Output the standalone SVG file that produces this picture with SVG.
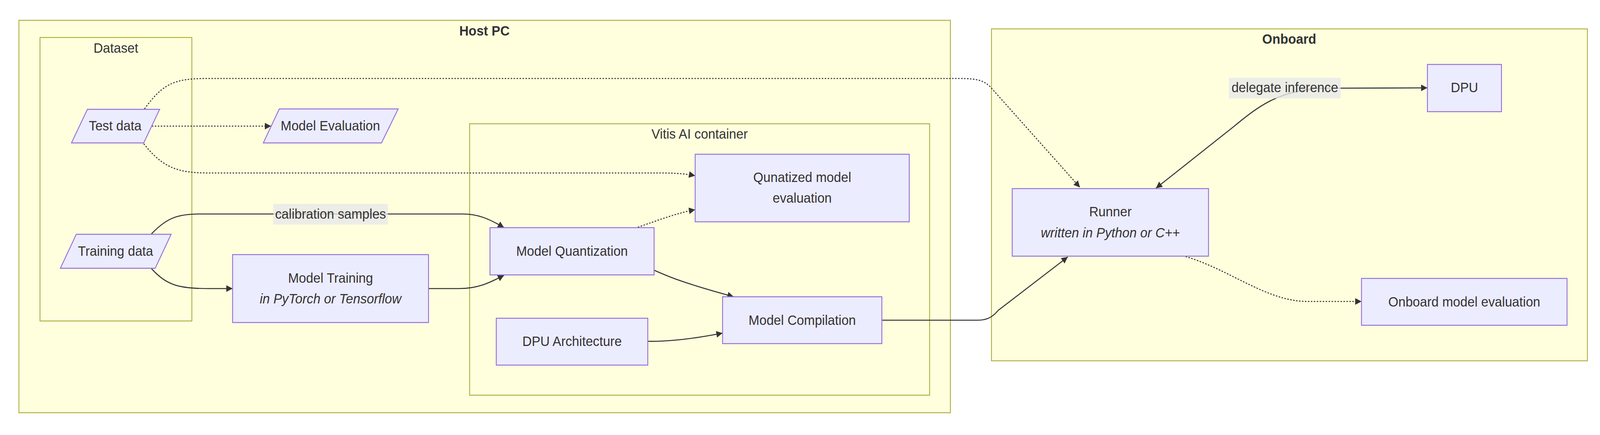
<svg xmlns="http://www.w3.org/2000/svg" width="4320" height="1114" viewBox="0 0 4320 1114">
<style>
.cluster{fill:#ffffde;stroke:#aaaa33;stroke-width:2.2}
.node{fill:#ececff;stroke:#9370db;stroke-width:2.4}
.t{font-family:"Liberation Sans",Arial,sans-serif;font-size:35px;fill:#333333;text-anchor:middle}
.b{font-weight:bold}
.i{font-style:italic}
.edge{fill:none;stroke:#333333;stroke-width:2.6}
.dot{stroke-dasharray:4 4}
.lbl{fill:rgba(232,232,232,0.8)}
</style>
<defs>
<marker id="arrow" viewBox="0 0 10 10" refX="10" refY="5" markerUnits="userSpaceOnUse" markerWidth="17" markerHeight="17" orient="auto-start-reverse"><path d="M0,0 L10,5 L0,10 z" fill="#333333"/></marker>
</defs>
<rect width="4320" height="1114" fill="#ffffff"/>
<g id="diagram" transform="matrix(0.948148 0 0 1 0 0)">
<g id="cluster-hostpc">
<rect class="cluster" x="51" y="52" width="2515" height="1005"/>
<text class="t b" x="1308" y="91">Host PC</text>
</g>
<g id="cluster-dataset">
<rect class="cluster" x="108" y="96" width="410" height="726"/>
<text class="t" x="313" y="135">Dataset</text>
</g>
<g id="cluster-vitis">
<rect class="cluster" x="1268" y="317" width="1242" height="695"/>
<text class="t" x="1889" y="355">Vitis AI container</text>
</g>
<g id="cluster-onboard">
<rect class="cluster" x="2677" y="74" width="1609" height="850"/>
<text class="t b" x="3481" y="112">Onboard</text>
</g>

<g id="connectors">
<path class="edge dot" d="M410,323 L732,323" marker-end="url(#arrow)"/>
<path class="edge dot" d="M390,279 C440,214 470,201 560,201 L2590,201 C2640,201 2660,206 2680,229 L2916,480" marker-end="url(#arrow)"/>
<path class="edge dot" d="M388,368 C440,430 480,443 564,443 L1785,443 C1830,443 1855,446 1877,450" marker-end="url(#arrow)"/>
<path class="edge" d="M409,599 C450,558 480,548 540,548 L1250,548 C1290,548 1320,560 1361,583" marker-end="url(#arrow)"/>
<path class="edge" d="M409,688 C450,730 480,739 564,739 L628,739" marker-end="url(#arrow)"/>
<path class="edge" d="M1157,739 L1240,739 C1290,739 1320,725 1361,705" marker-end="url(#arrow)"/>
<path class="edge dot" d="M1722,582 C1780,563 1830,545 1877,537" marker-end="url(#arrow)"/>
<path class="edge" d="M1766,692 C1805,708 1835,722 1981,760" marker-end="url(#arrow)"/>
<path class="edge" d="M1749,874 C1800,875 1860,870 1951,853" marker-end="url(#arrow)"/>
<path class="edge" d="M2381,820 L2640,820 C2665,820 2680,812 2695,795 L2883,658" marker-end="url(#arrow)"/>
<path class="edge" d="M3121,482 L3330,325 C3400,270 3450,235 3560,226 L3854,225" marker-start="url(#arrow)" marker-end="url(#arrow)"/>
<path class="edge dot" d="M3201,657 C3320,690 3420,772 3530,772 L3676,772" marker-end="url(#arrow)"/>
<g id="edge-label-calibration">
<rect class="lbl" x="738" y="522" width="309" height="53"/>
<text class="t" x="892.5" y="560">calibration samples</text>
</g>
<g id="edge-label-delegate">
<rect class="lbl" x="3318" y="199" width="302" height="53"/>
<text class="t" x="3469" y="236">delegate inference</text>
</g>
</g>

<g id="node-testdata">
<polygon class="node" points="236,280 431,280 388,366 193,366"/>
<text class="t" x="311" y="334">Test data</text>
</g>
<g id="node-modeleval">
<polygon class="node" points="754,279 1075,279 1030,366 711,366"/>
<text class="t" x="892" y="334">Model Evaluation</text>
</g>
<g id="node-trainingdata">
<polygon class="node" points="206,600 462,600 419,687 163,687"/>
<text class="t" x="312" y="655">Training data</text>
</g>
<g id="node-modeltraining">
<rect class="node" x="628" y="652" width="529" height="174"/>
<text class="t" x="892.5" y="724">Model Training</text>
<text class="t i" x="892.5" y="777">in PyTorch or Tensorflow</text>
</g>
<g id="node-quantizedeval">
<rect class="node" x="1877" y="395" width="578" height="173"/>
<text class="t" x="2166" y="466">Qunatized model</text>
<text class="t" x="2166" y="519">evaluation</text>
</g>
<g id="node-quantization">
<rect class="node" x="1323" y="583" width="443" height="121"/>
<text class="t" x="1544.5" y="655">Model Quantization</text>
</g>
<g id="node-dpuarch">
<rect class="node" x="1340" y="815" width="409" height="120"/>
<text class="t" x="1544.5" y="886">DPU Architecture</text>
</g>
<g id="node-compilation">
<rect class="node" x="1951" y="760" width="430" height="120"/>
<text class="t" x="2166" y="832">Model Compilation</text>
</g>
<g id="node-runner">
<rect class="node" x="2733" y="483" width="530" height="173"/>
<text class="t" x="2998" y="554">Runner</text>
<text class="t i" x="2998" y="608">written in Python or C++</text>
</g>
<g id="node-dpu">
<rect class="node" x="3854" y="165" width="200" height="121"/>
<text class="t" x="3954" y="236">DPU</text>
</g>
<g id="node-onboardeval">
<rect class="node" x="3676" y="713" width="555" height="120"/>
<text class="t" x="3953.5" y="785">Onboard model evaluation</text>
</g>
</g>
</svg>
